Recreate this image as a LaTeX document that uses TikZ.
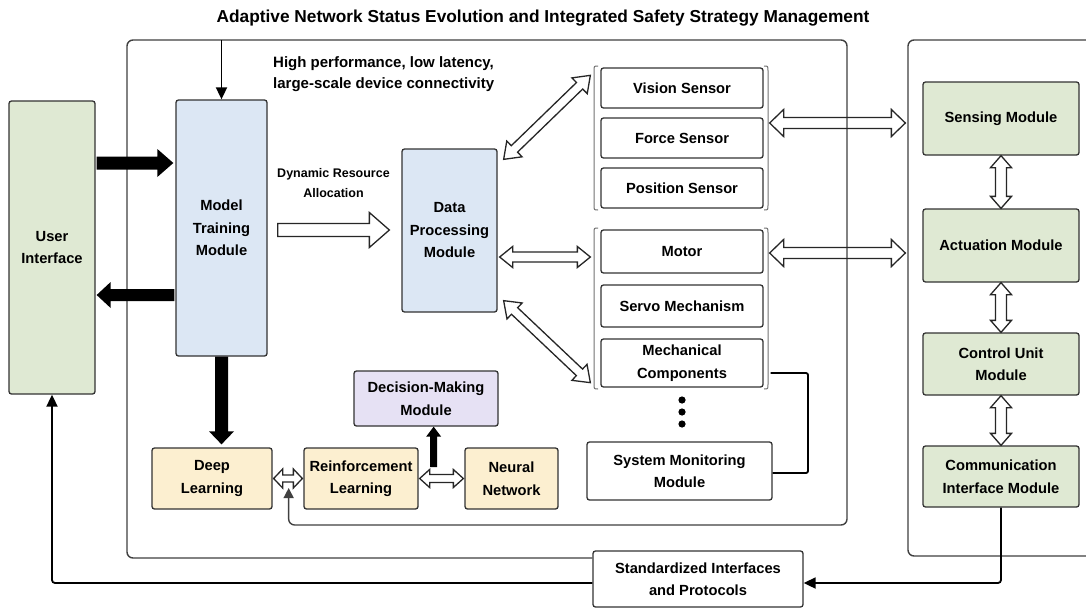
\documentclass[tikz,border=0pt]{standalone}
\usepackage{fontspec}
\setmainfont{Liberation Sans}
\usetikzlibrary{calc,arrows.meta}
\definecolor{gfill}{HTML}{DFE9D3}
\definecolor{bfill}{HTML}{DCE7F4}
\definecolor{yfill}{HTML}{FCEFD0}
\definecolor{pfill}{HTML}{E6E1F4}
\definecolor{edgecol}{HTML}{333333}
\newcommand\fs[2]{\fontsize{#1}{#2}\selectfont}
% hollow double arrow: from, to, shaft half width, head half width, head length
\newcommand\hollowdbl[5]{%
  \coordinate (ha1) at ($(#1)!#5!(#2)$);
  \coordinate (ha2) at ($(#2)!#5!(#1)$);
  \draw[hollowarr] (#1) -- ($(ha1)!#4!-90:(#2)$) -- ($(ha1)!#3!-90:(#2)$) -- ($(ha2)!#3!90:(#1)$) -- ($(ha2)!#4!90:(#1)$) -- (#2) -- ($(ha2)!#4!-90:(#1)$) -- ($(ha2)!#3!-90:(#1)$) -- ($(ha1)!#3!90:(#2)$) -- ($(ha1)!#4!90:(#2)$) -- cycle;}
% hollow single arrow
\newcommand\hollowsgl[5]{%
  \coordinate (hb) at ($(#2)!#5!(#1)$);
  \draw[hollowarr] ($(#1)!#3!90:(#2)$) -- ($(hb)!#3!-90:(#1)$) -- ($(hb)!#4!-90:(#1)$) -- (#2) -- ($(hb)!#4!90:(#1)$) -- ($(hb)!#3!90:(#1)$) -- ($(#1)!#3!-90:(#2)$) -- cycle;}
% solid single arrow
\newcommand\solidarr[5]{%
  \coordinate (sb) at ($(#2)!#5!(#1)$);
  \fill[black] ($(#1)!#3!90:(#2)$) -- ($(sb)!#3!-90:(#1)$) -- ($(sb)!#4!-90:(#1)$) -- (#2) -- ($(sb)!#4!90:(#1)$) -- ($(sb)!#3!90:(#1)$) -- ($(#1)!#3!-90:(#2)$) -- cycle;}

\begin{document}
\begin{tikzpicture}[x=1pt,y=-1pt,
  nbox/.style={draw=edgecol, line width=1.3pt, rounded corners=2.5pt, inner sep=0pt, align=center, font=\fs{14.7}{22.5}\bfseries},
  gbox/.style={nbox, fill=gfill},
  bbox/.style={nbox, fill=bfill},
  ybox/.style={nbox, fill=yfill},
  pbox/.style={nbox, fill=pfill},
  wbox/.style={nbox, fill=white},
  hollowarr/.style={draw=black!85, line width=1.3pt, line join=miter},
  thinarrow/.style={draw=black, line width=1.8pt, rounded corners=3pt, -{Triangle[width=11pt,length=12pt]}},
  framepath/.style={draw=black!75, line width=1.4pt, rounded corners=6pt},
  bracketline/.style={draw=black!55, line width=1pt},
]
\fill[white] (0,0) rectangle (1086,608);
\useasboundingbox (0,0) rectangle (1086,608);

% title and free texts
\node[font=\fs{17.3}{20}\bfseries, anchor=base] (title) at (543,22.5) {Adaptive Network Status Evolution and Integrated Safety Strategy Management};
\node[font=\fs{15}{21}\bfseries, align=left, anchor=north west, inner sep=0pt] (hp) at (273,56) {High performance, low latency,\\large-scale device connectivity};
\node[font=\fs{12.5}{20}\bfseries, align=center, anchor=north, inner sep=0pt] (dra) at (333.5,168) {Dynamic Resource\\Allocation};

% nodes
\node[gbox, minimum width=86, minimum height=293] (ui) at (52,247.5) {User\\Interface};
\node[bbox, minimum width=91, minimum height=256] (mt) at (221.5,228) {Model\\Training\\Module};
\node[bbox, minimum width=95, minimum height=163] (dp) at (449.5,230.5) {Data\\Processing\\Module};

\node[wbox, minimum width=162, minimum height=40] (vis) at (682,88) {Vision Sensor};
\node[wbox, minimum width=162, minimum height=40] (force) at (682,138) {Force Sensor};
\node[wbox, minimum width=162, minimum height=40] (pos) at (682,188) {Position Sensor};
\node[wbox, minimum width=162, minimum height=43] (motor) at (682,251.5) {Motor};
\node[wbox, minimum width=162, minimum height=42] (servo) at (682,306) {Servo Mechanism};
\node[wbox, minimum width=162, minimum height=48] (mech) at (682,363) {Mechanical\\Components};
\node[wbox, minimum width=185, minimum height=58] (smm) at (679.5,471) {System Monitoring\\Module};

\node[gbox, minimum width=156, minimum height=73] (sense) at (1001,118.5) {Sensing Module};
\node[gbox, minimum width=156, minimum height=73] (act) at (1001,245.5) {Actuation Module};
\node[gbox, minimum width=156, minimum height=62] (ctrl) at (1001,364) {Control Unit\\Module};
\node[gbox, minimum width=156, minimum height=61] (comm) at (1001,476.5) {Communication\\Interface Module};

\node[wbox, minimum width=210, minimum height=56] (sip) at (698,579) {Standardized Interfaces\\and Protocols};

\node[pbox, minimum width=144, minimum height=55] (dm) at (426,398.5) {Decision-Making\\Module};
\node[ybox, minimum width=120, minimum height=61] (dl) at (212,478.5) {Deep\\Learning};
\node[ybox, minimum width=114, minimum height=61] (rl) at (361,478.5) {Reinforcement\\Learning};
\node[ybox, minimum width=93, minimum height=61] (nn) at (511.5,478.5) {Neural\\Network};

% brackets around sensor / actuator groups
\draw[bracketline] (598,66) .. controls (594,66) .. (594,71) -- (594,205) .. controls (594,210) .. (598,210);
\draw[bracketline] (764,66) .. controls (768,66) .. (768,71) -- (768,205) .. controls (768,210) .. (764,210);
\draw[bracketline] (598,228) .. controls (594,228) .. (594,233) -- (594,384) .. controls (594,389) .. (598,389);
\draw[bracketline] (764,228) .. controls (768,228) .. (768,233) -- (768,384) .. controls (768,389) .. (764,389);

% dots
\foreach \yy in {400,412,424} \fill (682,\yy) circle (3.6pt);

% frames
\coordinate (fb) at ($(dl.east)+(16,9.5)$);
\draw[framepath, -{Triangle[width=10pt,length=10pt]}] (sip.west |- 0,558) -- (127,558) -- (127,40) -- (847,40) -- (847,525) -- (fb |- 0,525) -- (fb);
\draw[framepath] (1100,40) -- (908,40) -- (908,556) -- (1100,556);

% thin connectors
\draw[thinarrow] (mt.north |- 0,40) -- (mt.north);
\draw[thinarrow] (comm.south) -- (comm.south |- 0,583) -- (sip.east |- 0,583);
\draw[thinarrow] (sip.west |- 0,583) -- (ui.south |- 0,583) -- (ui.south);
\coordinate (m1) at ($(mech.east)+(7,10)$);
\draw[line width=1.8pt, rounded corners=2pt] (m1) -- (808,373) -- (808,473) -- (smm.east |- 0,473);

% endpoints
\coordinate (a1) at ($(ui.east |- 0,163)+(1,0)$);
\coordinate (a2) at ($(mt.west |- 0,163)+(-2,0)$);
\coordinate (b1) at ($(mt.west |- 0,295)+(-1,0)$);
\coordinate (b2) at ($(ui.east |- 0,295)+(1,0)$);
\coordinate (c1) at (mt.south);
\coordinate (c2) at ($(mt.south |- dl.north)+(0,-3)$);
\coordinate (d1) at ($(mt.east |- 0,230)+(10,0)$);
\coordinate (d2) at ($(dp.west |- 0,230)+(-12,0)$);
\coordinate (e1) at ($(dp.north east)+(6,11)$);
\coordinate (e2) at ($(vis.north west)+(-10,8)$);
\coordinate (f1) at ($(dp.east |- motor.west)+(2,5.5)$);
\coordinate (f2) at ($(motor.west)+(-10,5.5)$);
\coordinate (g1) at ($(dp.south east)+(6,-12)$);
\coordinate (g2) at ($(mech.south west)+(-10,-5)$);
\coordinate (h1) at ($(force.east)+(6,-15)$);
\coordinate (h2) at ($(sense.west |- h1)+(-17,0)$);
\coordinate (i1) at ($(motor.east)+(6,1.5)$);
\coordinate (i2) at ($(act.west |- i1)+(-17,0)$);
\coordinate (j1) at ($(dl.east)+(1,0)$);
\coordinate (j2) at ($(rl.west)+(-1,0)$);
\coordinate (k1) at ($(rl.east)+(1,0)$);
\coordinate (k2) at ($(nn.west)+(-1,0)$);
\coordinate (l1) at ($(rl.east)+(15,-11.5)$);
\coordinate (l2) at (dm.south -| l1);

% solid arrows
\solidarr{a1}{a2}{6.5pt}{14pt}{16pt}
\solidarr{b1}{b2}{6pt}{13pt}{14pt}
\solidarr{c1}{c2}{6.5pt}{12.5pt}{13pt}
\solidarr{l1}{l2}{3.5pt}{7.5pt}{10pt}

% hollow arrows
\hollowsgl{d1}{d2}{6.5pt}{17.5pt}{20pt}
\hollowdbl{e1}{e2}{4.5pt}{11pt}{15pt}
\hollowdbl{f1}{f2}{5pt}{10.5pt}{13pt}
\hollowdbl{g1}{g2}{4.5pt}{11pt}{15pt}
\hollowdbl{h1}{h2}{5.5pt}{13.5pt}{14pt}
\hollowdbl{i1}{i2}{5.5pt}{13.5pt}{14pt}
\hollowdbl{sense.south}{act.north}{5.5pt}{10.5pt}{12pt}
\hollowdbl{act.south}{ctrl.north}{5.5pt}{10.5pt}{12pt}
\hollowdbl{ctrl.south}{comm.north}{5.5pt}{10.5pt}{12pt}
\hollowdbl{j1}{j2}{3.5pt}{9.5pt}{9pt}
\hollowdbl{k1}{k2}{4pt}{9pt}{10pt}
\end{tikzpicture}
\end{document}
